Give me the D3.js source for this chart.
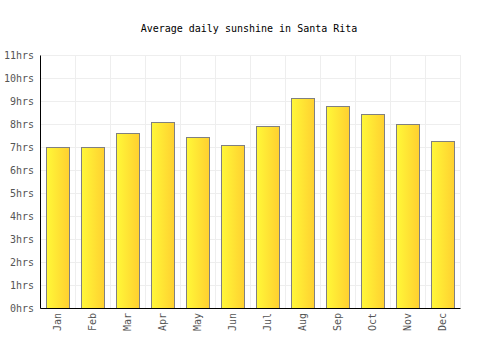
<!DOCTYPE html>
<html>
<head>
<meta charset="utf-8">
<script src="https://cdn.jsdelivr.net/npm/d3@7"></script>
<style>
  body { margin: 0; background: #fff; }
  text { font-family: "DejaVu Sans Mono", monospace; }
</style>
</head>
<body>
<div id="chart"></div>
<script>
// Monthly values
const months = ["Jan", "Feb", "Mar", "Apr", "May", "Jun", "Jul", "Aug", "Sep", "Oct", "Nov", "Dec"];
const sunshine = [7.0, 7.0, 7.6, 8.1, 7.45, 7.07, 7.9, 9.15, 8.8, 8.45, 8.02, 7.25];
const yTicks = [0, 1, 2, 3, 4, 5, 6, 7, 8, 9, 10, 11];

const margin = {top: 55, right: 40, bottom: 42, left: 40};
const width = 500 - margin.left - margin.right;
const height = 350 - margin.top - margin.bottom;

const svg = d3.select("#chart").append("svg")
    .attr("width", 500)
    .attr("height", 350);

// Bar fill: light yellow on the left, warmer on the right
const grad = svg.append("defs").append("linearGradient")
    .attr("id", "barGrad")
    .attr("x1", "0%").attr("x2", "100%").attr("y1", "0%").attr("y2", "0%");
grad.append("stop").attr("offset", "0%").attr("stop-color", "#fff838");
grad.append("stop").attr("offset", "100%").attr("stop-color", "#ffd030");

svg.append("text")
    .attr("x", 249)
    .attr("y", 32)
    .attr("text-anchor", "middle")
    .style("font-size", "10px")
    .style("fill", "#000")
    .text("Average daily sunshine in Santa Rita");

const g = svg.append("g")
    .attr("transform", `translate(${margin.left},${margin.top})`);

const x = d3.scaleBand()
    .domain(months)
    .range([0, width])
    .paddingInner(0.34)
    .paddingOuter(0.17);

const y = d3.scaleLinear()
    .domain([0, 11])
    .range([height, 0]);

// Grid lines
g.append("g").selectAll("line.h")
    .data(yTicks)
    .enter().append("line")
    .attr("x1", 0).attr("x2", width)
    .attr("y1", d => y(d) + 0.5).attr("y2", d => y(d) + 0.5)
    .attr("stroke", "#eeeeee");

const step = x.step();
g.append("g").selectAll("line.v")
    .data(d3.range(months.length + 1))
    .enter().append("line")
    .attr("x1", i => Math.round(i * step) + 0.5).attr("x2", i => Math.round(i * step) + 0.5)
    .attr("y1", 0).attr("y2", height)
    .attr("stroke", "#eeeeee");

// Bars
g.selectAll(".bar")
    .data(sunshine)
    .enter().append("rect")
    .attr("class", "bar")
    .attr("x", (d, i) => Math.round(x(months[i])) + 0.5)
    .attr("y", d => Math.round(y(d)) + 0.5)
    .attr("width", Math.round(x.bandwidth()))
    .attr("height", d => height - Math.round(y(d)))
    .attr("fill", "url(#barGrad)")
    .attr("stroke", "#808080")
    .attr("stroke-width", 1);

// Y axis
const yAxis = g.append("g")
    .call(d3.axisLeft(y).tickValues(yTicks).tickFormat(d => d + "hrs").tickSize(0).tickPadding(6));
yAxis.select(".domain").attr("stroke", "#000");
yAxis.selectAll("text").style("font-size", "10px").style("fill", "#555")
    .style("font-family", "'DejaVu Sans Mono', monospace");

// X axis
const xAxis = g.append("g")
    .attr("transform", `translate(0,${height})`)
    .call(d3.axisBottom(x).tickSize(0).tickPadding(6));
xAxis.select(".domain").attr("stroke", "#000");
xAxis.selectAll("text")
    .style("font-size", "10px").style("fill", "#555")
    .style("font-family", "'DejaVu Sans Mono', monospace")
    .attr("transform", "rotate(-90)")
    .attr("text-anchor", "end")
    .attr("dx", "-0.5em")
    .attr("dy", "-0.3em");
</script>
</body>
</html>
